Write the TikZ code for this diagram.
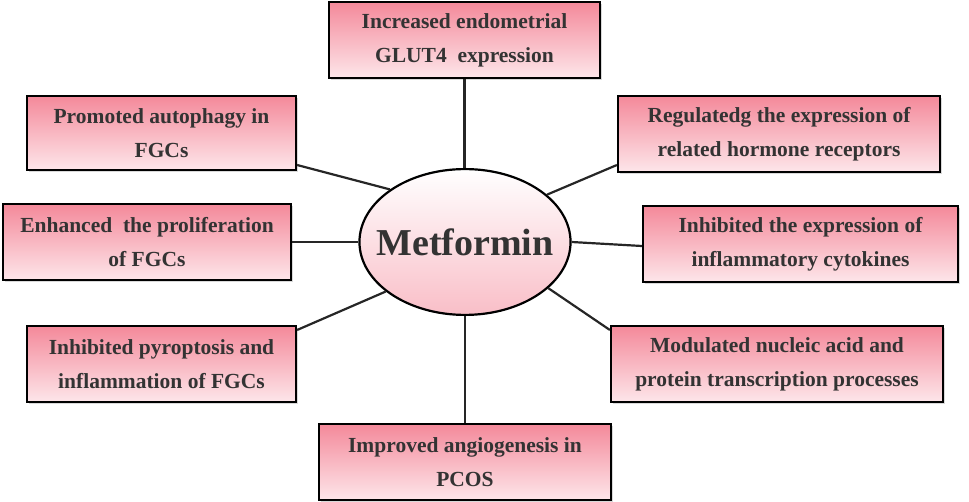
\documentclass[tikz,border=0pt]{standalone}
\usepackage{fontspec}
\setmainfont{Liberation Serif}
\usetikzlibrary{shapes.geometric,shadows}
\definecolor{pk}{HTML}{F4899A}
\definecolor{pkl}{HTML}{FDE6EA}
\definecolor{tx}{HTML}{333333}
\tikzset{
 box/.style={draw=black,line width=2.2pt,top color=pk,bottom color=pkl,
   text=tx,font=\bfseries\fontsize{21.5}{34}\selectfont,align=center,inner sep=0pt,
   drop shadow={shadow xshift=2pt,shadow yshift=-2pt,opacity=0.3}},
 conn/.style={line width=2.2pt,draw=black!85}
}
\begin{document}
\begin{tikzpicture}[x=1pt,y=-1pt]
\useasboundingbox (0,0) rectangle (969,502);
\node[box,minimum width=271,minimum height=76] (t) at (464.5,40) {Increased endometrial\\GLUT4\ \ expression};
\node[box,minimum width=269,minimum height=74] (p) at (161.5,133) {Promoted autophagy in\\FGCs};
\node[box,minimum width=322,minimum height=76] (r) at (779,134) {Regulatedg the expression of\\related hormone receptors};
\node[box,minimum width=288,minimum height=76] (e) at (147,242) {Enhanced\ \ the proliferation\\of FGCs};
\node[box,minimum width=315,minimum height=76] (i) at (800.5,244) {Inhibited the expression of\\inflammatory cytokines};
\node[box,minimum width=269,minimum height=76] (y) at (161.5,364) {Inhibited pyroptosis and\\inflammation of FGCs};
\node[box,minimum width=332,minimum height=76] (d) at (777,364) {Modulated nucleic acid and\\protein transcription processes};
\node[box,minimum width=292,minimum height=76] (g) at (465,462) {Improved angiogenesis in\\PCOS};
\node[ellipse,draw=black,line width=2.2pt,top color=white,bottom color=pk!55,
  inner xsep=-14pt,inner ysep=38pt,text=tx,
  font=\bfseries\fontsize{38}{38}\selectfont] (m) at (465,242) {Metformin};
\draw[conn] (t.south) -- (t.south |- m.north);
\draw[conn] ([yshift=-32]p.east) -- (m.145);
\draw[conn] ([yshift=-31]r.west) -- (m.30);
\draw[conn] (e.east) -- (m.west);
\draw[conn] ([yshift=-2]i.west) -- (m.east);
\draw[conn] ([yshift=34]y.east) -- (m.212);
\draw[conn] ([yshift=34]d.west) -- (m.331);
\draw[conn] (g.north) -- (m.south);
\end{tikzpicture}
\end{document}
